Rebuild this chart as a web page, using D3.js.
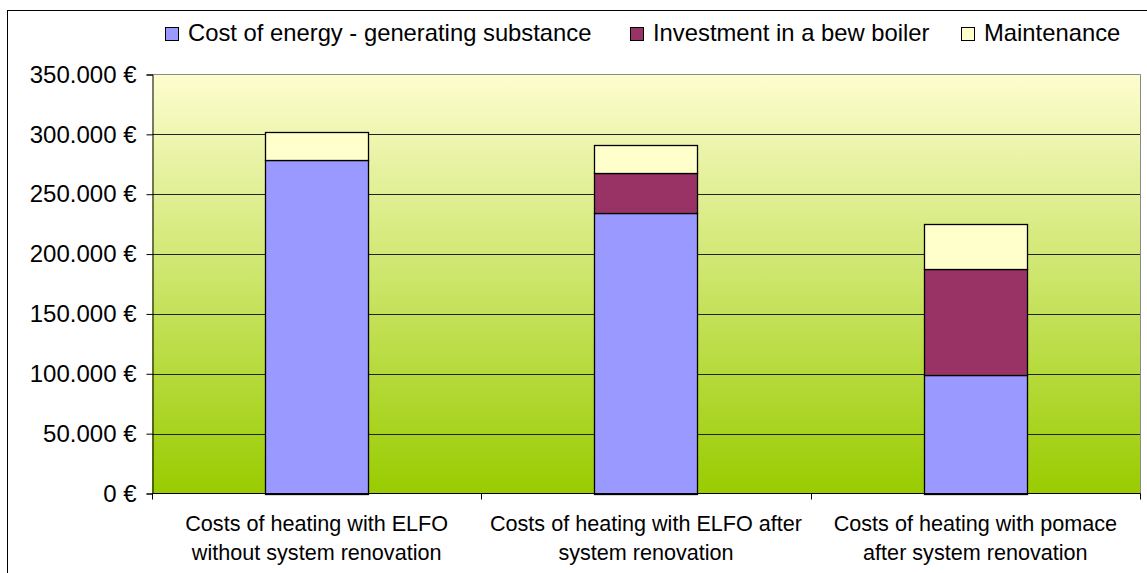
<!DOCTYPE html>
<html>
<head>
<meta charset="utf-8">
<script src="https://cdn.jsdelivr.net/npm/d3@7"></script>
<style>
  body { margin: 0; background: #fff; }
  svg { display: block; font-family: "Liberation Sans", Arial, sans-serif; }
</style>
</head>
<body>
<div id="chart"></div>
<script>
// Data
const categories = [
  ["Costs of heating with ELFO", "without system renovation"],
  ["Costs of heating with ELFO after", "system renovation"],
  ["Costs of heating with pomace", "after system renovation"],
];
const seriesNames = ["Cost of energy - generating substance", "Investment in a bew boiler", "Maintenance"];
const energyCost = [278500, 234500, 99000];
const investment = [0, 33600, 88600];
const maintenance = [23700, 23400, 37700];
const yTicks = [0, 50000, 100000, 150000, 200000, 250000, 300000, 350000];
const colors = ["#9999ff", "#993366", "#ffffcc"];

document.addEventListener("DOMContentLoaded", () => {
  const width = 1147;
  const height = 573;
  const plot = { left: 152, right: 1140, top: 74.5, bottom: 493.5 };

  const svg = d3.select("#chart").append("svg")
    .attr("width", width)
    .attr("height", height);

  // outer frame
  svg.append("rect")
    .attr("x", 7.5).attr("y", 10.5)
    .attr("width", 1160).attr("height", 600)
    .attr("fill", "none").attr("stroke", "#000");

  // background gradient
  const grad = svg.append("defs").append("linearGradient")
    .attr("id", "bg").attr("x1", 0).attr("y1", 0).attr("x2", 0).attr("y2", 1);
  grad.append("stop").attr("offset", "0%").attr("stop-color", "#fdfdcf");
  grad.append("stop").attr("offset", "100%").attr("stop-color", "#99cc00");

  svg.append("rect")
    .attr("x", plot.left).attr("y", plot.top)
    .attr("width", plot.right - plot.left).attr("height", plot.bottom - plot.top)
    .attr("fill", "url(#bg)");

  // Scales
  const x = d3.scaleBand()
    .domain(d3.range(categories.length))
    .range([plot.left, plot.right])
    .paddingInner(0.687)
    .paddingOuter(0.3435);
  const y = d3.scaleLinear()
    .domain([0, 350000])
    .range([plot.bottom, plot.top]);

  // gridlines
  svg.append("g")
    .selectAll("line")
    .data(yTicks.slice(1, -1))
    .enter().append("line")
    .attr("x1", plot.left).attr("x2", plot.right)
    .attr("y1", (d) => Math.round(y(d)) + 0.5)
    .attr("y2", (d) => Math.round(y(d)) + 0.5)
    .attr("stroke", "#222");

  // plot border (top / right grey)
  svg.append("path")
    .attr("d", `M${plot.left},${plot.top}H${plot.right + 0.5}V${plot.bottom}`)
    .attr("fill", "none").attr("stroke", "#8a8a8a");

  // stacked bars
  const rows = categories.map((c, i) => ({
    i, s0: energyCost[i], s1: investment[i], s2: maintenance[i],
  }));
  const stack = d3.stack().keys(["s0", "s1", "s2"])(rows);

  svg.append("g")
    .selectAll("g")
    .data(stack)
    .enter().append("g")
    .attr("fill", (d, k) => colors[k])
    .selectAll("rect")
    .data((d) => d.filter((p) => p[1] - p[0] > 0))
    .enter().append("rect")
    .attr("x", (d) => Math.round(x(d.data.i)) + 0.5)
    .attr("y", (d) => Math.round(y(d[1])) + 0.5)
    .attr("width", Math.round(x.bandwidth()))
    .attr("height", (d) => Math.round(y(d[0])) - Math.round(y(d[1])))
    .attr("stroke", "#000")
    .attr("stroke-width", 1.3);

  // Y axis
  const euro = (v) => (v === 0 ? "0" : d3.format(",")(v).replace(/,/g, ".")) + " €";
  const yAxis = d3.axisLeft(y).tickValues(yTicks).tickSize(6).tickPadding(10).tickFormat(euro);
  svg.append("g")
    .attr("id", "y-axis")
    .attr("transform", `translate(${plot.left + 0.5}, 0)`)
    .call(yAxis)
    .call((g) => g.select(".domain").attr("stroke", "#000"))
    .selectAll(".tick text")
    .attr("font-family", "Liberation Sans, Arial, sans-serif")
    .attr("font-size", 24)
    .attr("fill", "#000");

  // X axis (ticks at category boundaries)
  const bounds = d3.range(categories.length + 1).map((i) => plot.left + i * x.step());
  const xg = svg.append("g").attr("id", "x-axis");
  xg.append("line")
    .attr("x1", plot.left).attr("x2", plot.right + 0.5)
    .attr("y1", plot.bottom).attr("y2", plot.bottom)
    .attr("stroke", "#000");
  xg.selectAll("line.tk")
    .data(bounds)
    .enter().append("line")
    .attr("class", "tk")
    .attr("x1", (d) => Math.round(d) + 0.5).attr("x2", (d) => Math.round(d) + 0.5)
    .attr("y1", plot.bottom).attr("y2", plot.bottom + 6)
    .attr("stroke", "#000");

  // category labels
  const labels = xg.selectAll("text")
    .data(categories)
    .enter().append("text")
    .attr("text-anchor", "middle")
    .attr("font-size", 21.6)
    .attr("fill", "#000");
  labels.selectAll("tspan")
    .data((d, i) => d.map((line, j) => ({ line, j, i })))
    .enter().append("tspan")
    .attr("x", (d) => x(d.i) + x.bandwidth() / 2)
    .attr("y", (d) => 531 + d.j * 29)
    .text((d) => d.line);

  // Legend
  const legendX = [165, 630, 961];
  const legend = svg.append("g");
  seriesNames.forEach((name, k) => {
    legend.append("rect")
      .attr("x", legendX[k] + 0.5).attr("y", 27.5)
      .attr("width", 13).attr("height", 13)
      .attr("fill", colors[k]).attr("stroke", "#000");
    legend.append("text")
      .attr("x", legendX[k] + 23).attr("y", 41)
      .attr("font-size", 23.8)
      .attr("fill", "#000")
      .text(name);
  });
});
</script>
</body>
</html>
